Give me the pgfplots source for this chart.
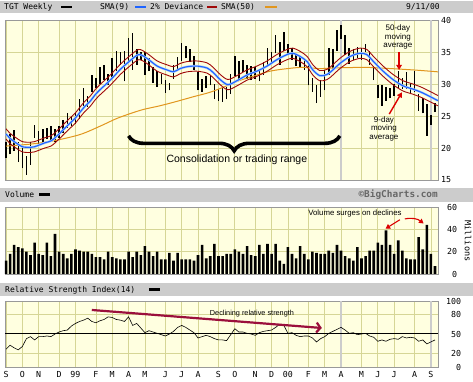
\documentclass[border=0pt]{standalone}
\usepackage{pgfplots}
\pgfplotsset{compat=1.18}
\usepackage{pgfplotstable}
\usepackage{fontspec}
\setmainfont{Liberation Sans}
\newfontfamily\pix{DejaVu Sans Mono}
\usetikzlibrary{decorations.pathreplacing,arrows.meta}

\definecolor{bgy}{RGB}{255,255,224}
\definecolor{gridc}{RGB}{214,214,150}
\definecolor{hdr}{RGB}{204,204,204}
\definecolor{smablue}{RGB}{30,100,255}
\definecolor{smalight}{RGB}{175,205,255}
\definecolor{devred}{RGB}{160,10,10}
\definecolor{smaorange}{RGB}{225,150,30}
\definecolor{arrred}{RGB}{220,0,0}
\definecolor{rsired}{RGB}{155,15,60}

\pgfplotstableread{
i lo hi
0 18.5 21.0
1 19.0 22.2
2 19.5 22.8
3 17.8 21.0
4 16.8 20.0
5 15.8 18.8
6 17.4 21.0
7 21.6 23.6
8 20.4 22.6
9 21.0 23.0
10 21.4 23.2
11 21.2 23.4
12 21.0 23.0
13 21.6 23.5
14 22.4 24.4
15 23.2 25.4
16 23.4 25.0
17 23.8 25.4
18 24.6 27.6
19 26.6 29.4
20 26.4 28.2
21 28.8 31.4
22 29.4 31.0
23 30.0 32.6
24 30.6 33.0
25 29.8 31.6
26 31.0 34.0
27 32.0 35.2
28 33.0 35.0
29 30.4 35.2
30 33.4 37.2
31 32.2 38.0
32 33.0 35.4
33 33.8 35.0
34 31.4 35.0
35 32.0 34.0
36 30.2 32.6
37 29.6 32.0
38 30.0 31.6
39 28.6 30.6
40 29.0 30.2
41 30.8 33.0
42 32.0 34.2
43 33.6 36.4
44 34.0 36.0
45 33.4 35.4
46 32.2 34.4
47 29.0 31.8
48 28.8 30.8
49 29.4 31.2
50 29.8 31.4
51 27.6 30.0
52 27.4 29.2
53 27.2 29.4
54 27.6 29.6
55 28.4 31.6
56 31.2 34.4
57 30.8 33.6
58 31.8 33.8
59 30.8 33.0
60 30.6 32.8
61 30.8 32.6
62 30.4 32.2
63 31.4 33.4
64 32.8 35.6
65 33.4 35.0
66 34.8 37.6
67 33.0 36.6
68 35.2 38.2
69 34.6 36.2
70 33.8 35.6
71 32.8 34.6
72 32.6 34.4
73 32.2 34.0
74 29.8 33.0
75 28.8 31.0
76 27.0 29.8
77 28.0 30.6
78 29.0 32.2
79 31.4 35.6
80 32.2 35.4
81 35.2 38.4
82 37.0 39.2
83 34.6 37.6
84 33.2 35.6
85 33.8 35.4
86 34.0 35.8
87 33.8 35.6
88 35.0 36.2
89 33.0 35.2
90 30.6 32.8
91 27.8 29.8
92 26.6 29.8
93 27.4 29.6
94 27.8 29.4
95 28.2 30.0
96 29.4 32.0
97 29.2 31.0
98 29.2 31.8
99 28.4 30.2
100 28.8 32.0
101 25.8 28.4
102 25.4 27.8
103 21.9 26.8
104 23.6 25.2
105 25.6 27.0
}\price

\pgfplotstableread{
w sma up dn
0 22.2 23.0 21.4
1 21.5 22.3 20.7
2 21.0 21.8 20.2
4 20.2 21.0 19.4
6 20.1 20.9 19.3
7 20.2 21.0 19.4
9.5 20.8 21.6 20.0
11 21.1 21.9 20.3
12 21.6 22.4 20.8
13 22.2 23.0 21.4
14.4 23.1 23.9 22.3
15.7 23.9 24.7 23.1
17 24.7 25.5 23.9
18 25.5 26.3 24.7
19.3 26.5 27.3 25.7
20.6 27.3 28.1 26.5
21.8 28.3 29.1 27.5
23 29.1 29.9 28.3
24.2 29.8 30.6 29.0
25.5 30.6 31.4 29.8
26.7 31.4 32.2 30.6
28 32.3 33.1 31.5
30.3 33.6 34.4 32.8
32.5 34.6 35.4 33.8
34.5 34.0 34.8 33.2
37 32.8 33.6 32.0
39.4 32.2 33.0 31.4
41 31.9 32.7 31.1
42.6 32.4 33.2 31.6
44.3 32.7 33.5 31.9
46.7 32.8 33.6 32.0
49.2 32.5 33.3 31.7
50.7 31.8 32.6 31.0
52.4 30.7 31.5 29.9
54.3 29.9 30.7 29.1
56.5 30.5 31.3 29.7
59 31.4 32.2 30.6
61.4 32.0 32.8 31.2
63.9 32.8 33.6 32.0
66.3 33.8 34.6 33.0
68.8 34.6 35.4 33.8
70.2 34.8 35.6 34.0
72 34.3 35.1 33.5
73.7 33.5 34.3 32.7
75.1 32.2 33.0 31.4
76.8 31.3 32.1 30.5
78.6 31.5 32.3 30.7
80 32.2 33.0 31.4
81.7 33.2 34.0 32.4
84.2 34.3 35.1 33.5
86.6 34.8 35.6 34.0
88.3 34.6 35.4 33.8
89.8 33.6 34.4 32.8
92.3 32.0 32.8 31.2
94.7 30.7 31.5 29.9
97.2 29.7 30.5 28.9
99.6 29.2 30.0 28.4
102 28.6 29.4 27.8
105.7 27.4 28.2 26.6
}\smanine

\pgfplotstableread{
w s
0 20.3
5.9 20.6
11.5 21.1
18.1 22.1
23 23.4
26.7 24.5
29.6 25.2
33.5 26.0
37.7 26.6
41.9 27.3
45.8 28.0
49.9 28.7
53.6 29.6
56.5 30.4
60.4 31.2
64.6 32.0
68.8 32.4
72.7 32.6
76.8 32.4
80 32.5
87.4 32.6
91.5 32.5
99.6 32.2
105.7 31.9
}\smafifty

\pgfplotstableread{
i v
0 12
1 18
2 26
3 24
4 23
5 20
6 17
7 28
8 18
9 17
10 28
11 16
12 36
13 20
14 18
15 14
16 18
17 22
18 21
19 20
20 20
21 18
22 15
23 15
24 13
25 20
26 15
27 14
28 13
29 13
30 20
31 15
32 20
33 17
34 25
35 20
36 16
37 20
38 13
39 13
40 19
41 12
42 19
43 13
44 13
45 13
46 12
47 17
48 26
49 14
50 16
51 27
52 16
53 16
54 18
55 18
56 22
57 20
58 18
59 25
60 17
61 16
62 26
63 18
64 27
65 18
66 27
67 12
68 9
69 24
70 18
71 14
72 25
73 18
74 13
75 20
76 19
77 18
78 18
79 21
80 19
81 26
82 21
83 16
84 14
85 12
86 24
87 14
88 16
89 21
90 21
91 28
92 26
93 39
94 26
95 18
96 30
97 21
98 14
99 13
100 13
101 33
102 22
103 44
104 18
105 7
}\volume

\pgfplotstableread{
i r
0 27
1 33
2 29
3 26
4 31
5 43
6 46
7 41
8 46
9 46
10 47
11 46
12 50
13 53
14 55
15 56
16 62
17 66
18 69
19 71
20 74
21 69
22 67
23 70
24 72
25 76
26 75
27 72
28 71
29 69
30 76
31 63
32 66
33 59
34 52
35 55
36 53
37 51
38 49
39 47
40 50
41 54
42 60
43 63
44 60
45 56
46 52
47 44
48 46
49 48
50 46
51 43
52 41
53 41
54 40
55 49
56 58
57 53
58 53
59 51
60 50
61 48
62 52
63 54
64 55
65 56
66 60
67 65
68 63
69 51
70 52
71 48
72 46
73 47
74 47
75 44
76 38
77 43
78 46
79 51
80 54
81 57
82 60
83 56
84 51
85 52
86 49
87 50
88 51
89 47
90 45
91 39
92 41
93 39
94 42
95 43
96 42
97 46
98 44
99 45
100 44
101 39
102 41
103 35
104 38
105 41
}\rsi

\pgfplotsset{
  panel/.style={
    scale only axis, width=433pt,
    xmin=-0.245, xmax=105.73,
    anchor=south west,
    axis background/.style={fill=bgy},
    axis line style={draw=black!40, line width=0.8pt},
    xtick={0,4,8,13,17,22,26,30,34,39,43,47,52,56,61,65,69,74,78,82,87,91,95,100,104},
    xticklabels={},
    xmajorgrids, ymajorgrids,
    grid style={draw=gridc, line width=0.7pt},
    major tick length=0pt,
    yticklabel pos=right,
    ticklabel style={font=\pix\fontsize{8.3}{9}\selectfont},
    /pgf/number format/assume math mode=true,
  },
}

\newcommand{\hfont}{\pix\fontsize{8}{9}\selectfont}

\begin{document}
\begin{tikzpicture}[x=1pt,y=1pt]
\path[use as bounding box, fill=white] (0,0) rectangle (473,382);
% header bars
\fill[hdr] (0,369) rectangle (473,381);
\fill[hdr] (0,180.3) rectangle (473,194.3);
\fill[hdr] (0,86.3) rectangle (473,99.3);
% top header
\node[anchor=base west, inner sep=0, font=\hfont] at (4,372) {TGT Weekly};
\fill[black] (61,373.6) rectangle (72,376.4);
\node[anchor=base west, inner sep=0, font=\hfont] at (100,372) {SMA(9)};
\fill[smablue] (135,373.6) rectangle (146,376.4);
\node[anchor=base west, inner sep=0, font=\hfont] at (150,372) {2\% Deviance};
\fill[devred] (207,373.6) rectangle (217,376.4);
\node[anchor=base west, inner sep=0, font=\hfont] at (221,372) {SMA(50)};
\fill[smaorange] (265,373.6) rectangle (277,376.4);
\node[anchor=base east, inner sep=0, font=\hfont] at (440,372) {9/11/00};
% volume header
\node[anchor=base west, inner sep=0, font=\hfont] at (5,184.3) {Volume};
\fill[black] (39,185.9) rectangle (50,188.7);
\node[anchor=base east, inner sep=0, font=\pix\bfseries\fontsize{9.4}{10}\selectfont, text=black!60] at (438,184.3) {©BigCharts.com};
% rsi header
\node[anchor=base west, inner sep=0, font=\hfont] at (5,89.8) {Relative Strength Index(14)};
\fill[black] (149,91.4) rectangle (160,94.2);
% Millions
\node[rotate=-90, inner sep=0, font=\pix\fontsize{8.5}{9}\selectfont] at (468,141) {Millions};

% ---------------- price panel
\begin{axis}[panel, at={(5pt,202pt)}, height=160pt,
  ymin=15, ymax=40, ytick={15,20,25,30,35,40},
  yticklabel style={anchor=west, inner sep=0pt, text width=13pt, align=right},
  extra x ticks={82,104}, extra x tick labels={},
  extra x tick style={grid style={draw=black!20, line width=1.6pt}},
]
\addplot[draw=none, mark=none, forget plot,
  error bars/.cd, y dir=plus, y explicit, error mark=none,
  error bar style={draw=black, line width=1.5pt}]
  table[x=i, y=lo, y error expr=\thisrow{hi}-\thisrow{lo}] {\price};
\addplot[smaorange, line width=1pt, smooth, mark=none] table[x=w, y=s] {\smafifty};
\addplot[devred, line width=0.9pt, smooth, mark=none] table[x=w, y=up] {\smanine};
\addplot[devred, line width=0.9pt, smooth, mark=none] table[x=w, y=dn] {\smanine};
\addplot[smalight, line width=2.3pt, smooth, mark=none] table[x=w, y=sma] {\smanine};
\addplot[smablue, line width=1.1pt, smooth, mark=none] table[x=w, y=sma] {\smanine};
% annotations
\draw[black, line width=3.6pt, decorate, decoration={brace, amplitude=15pt, mirror}]
  (axis cs:30,21.9) -- (axis cs:81.7,21.9);
\node[font=\fontsize{10.5}{12}\selectfont] at (axis cs:56.5,18.1) {Consolidation or trading range};
\node[font=\fontsize{8}{8.6}\selectfont, align=center, inner sep=0] at (axis cs:95.9,37.3) {50-day\\moving\\average};
\draw[arrred, line width=1.4pt, -{Triangle[length=5pt,width=5.5pt]}] (axis cs:96.2,35.0) -- (axis cs:96.2,32.2);
\node[font=\fontsize{8}{8.6}\selectfont, align=center, inner sep=0] at (axis cs:92.5,23.0) {9-day\\moving\\average};
\draw[arrred, line width=1.4pt, -{Triangle[length=5pt,width=5.5pt]}] (axis cs:93.8,25.3) -- (axis cs:96.9,28.7);
\end{axis}

% ---------------- volume panel
\begin{axis}[panel, at={(5pt,108pt)}, height=67pt,
  ymin=0, ymax=60, ytick={0,20,40,60},
  yticklabel style={anchor=west, inner sep=0pt, text width=19pt, align=right},
  ybar, bar width=2.6pt,
]
\addplot[fill=black, draw=none] table[x=i, y=v] {\volume};
\node[font=\fontsize{7.8}{9}\selectfont, inner sep=0] at (axis cs:85.4,54.3) {Volume surges on declines};
\draw[arrred, line width=1.1pt, -{Triangle[length=4.5pt,width=5pt]}] (axis cs:96.4,48.6) -- (axis cs:92.9,40.6);
\draw[arrred, line width=1.1pt, -{Triangle[length=4.5pt,width=5pt]}] (axis cs:97.6,49.3) to[bend left=25] (axis cs:102.2,45.2);
\end{axis}

% ---------------- RSI panel
\begin{axis}[panel, at={(5pt,15pt)}, height=66pt,
  ymin=0, ymax=100, ytick={0,20,80,100},
  extra y ticks={50},
  extra y tick style={grid style={draw=black, line width=1pt}},
  yticklabel style={anchor=west, inner sep=0pt, text width=23pt, align=right},
  xticklabels={S,O,N,D,99,F,M,A,M,J,J,A,S,O,N,D,00,F,M,A,M,J,J,A,S},
  xticklabel style={yshift=-1pt},
  extra x ticks={82,104}, extra x tick labels={},
  extra x tick style={grid style={draw=black!20, line width=1.6pt}},
]
\addplot[black, line width=0.6pt, mark=none] table[x=i, y=r] {\rsi};
\draw[rsired, line width=2.2pt, -{Straight Barb[length=4pt,width=10pt]}] (axis cs:21,86.4) -- (axis cs:77.3,59.1);
\node[font=\fontsize{7.3}{8}\selectfont, inner sep=0] at (axis cs:60.2,80.3) {Declining relative strength};
\end{axis}
\end{tikzpicture}
\end{document}
